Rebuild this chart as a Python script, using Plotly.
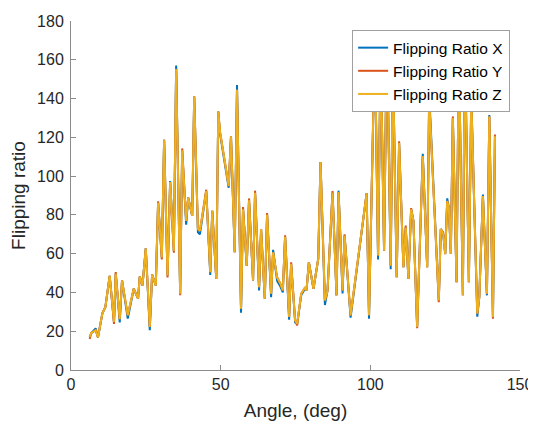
import plotly.graph_objects as go

angle_deg = [6.23, 6.80, 8.24, 9.01, 10.48, 11.49, 12.93, 14.37, 14.94, 16.28,
             17.05, 18.96, 20.96, 22.40, 22.97, 23.88, 24.98, 26.32, 27.09, 28.33,
             29.10, 30.34, 31.11, 32.25, 33.12, 34.36, 35.13, 36.47, 37.14, 38.48,
             39.15, 39.82, 40.49, 41.16, 42.40, 43.07, 45.18, 46.52, 47.19, 48.53,
             49.20, 49.77, 52.68, 53.45, 54.69, 55.46, 56.80, 57.47, 58.71, 59.48,
             60.82, 61.49, 62.83, 63.50, 64.74, 65.51, 66.85, 67.52, 68.86, 69.96,
             70.76, 71.53, 72.87, 73.54, 74.88, 75.55, 76.89, 78.23, 78.67, 79.47,
             81.01, 82.59, 83.36, 84.83, 85.70, 87.37, 88.71, 89.38, 90.72, 91.39,
             93.40, 98.76, 99.56, 101.51, 102.58, 103.45, 104.59, 105.53, 106.80, 107.54,
             108.81, 109.61, 111.05, 111.82, 112.73, 113.63, 114.40, 115.64, 117.52, 118.99,
             119.66, 122.87, 123.54, 124.35, 125.02, 125.69, 126.22, 126.89, 127.56, 128.80,
             129.57, 130.91, 131.58, 132.92, 133.72, 135.73, 136.40, 137.61, 138.95, 139.75,
             140.96, 141.63]

ratio_z = [17.1, 19.1, 20.5, 16.8, 29.2, 32.5, 48.6, 24.8, 49.6, 26.2,
           46.2, 28.2, 41.9, 36.8, 48.2, 43.6, 62.7, 22.2, 49.2, 43.6,
           86.3, 58.1, 118.8, 48.7, 96.9, 61.5, 155.2, 39.3, 113.3, 76.9,
           88.9, 84.6, 79.5, 141.0, 72.7, 71.8, 92.3, 50.4, 82.1, 47.0,
           133.3, 123.1, 94.9, 120.5, 60.7, 144.5, 31.6, 82.9, 53.8, 87.5,
           46.2, 91.4, 42.7, 72.7, 36.8, 80.0, 39.3, 60.7, 47.8, 44.5,
           41.0, 68.7, 27.3, 54.7, 25.6, 23.9, 39.3, 42.7, 41.0, 55.5,
           41.9, 57.3, 107.3, 35.9, 41.0, 91.4, 38.5, 91.8, 41.0, 69.2,
           28.2, 91.1, 28.2, 170.0, 59.0, 165.0, 61.5, 175.0, 53.8, 160.0,
           47.8, 117.1, 53.0, 73.5, 47.0, 82.9, 76.9, 22.2, 110.3, 53.0,
           139.8, 35.9, 72.7, 70.1, 59.8, 87.2, 83.7, 59.8, 129.9, 45.3,
           165.0, 38.5, 170.0, 45.3, 140.2, 29.1, 37.6, 89.7, 39.3, 130.8,
           27.3, 120.5]

ratio_x = [17.1, 19.1, 21.5, 16.8, 29.2, 32.5, 48.6, 24.8, 49.6, 24.5,
           46.2, 26.5, 41.9, 36.8, 48.2, 43.6, 62.7, 20.5, 49.2, 43.6,
           86.3, 58.1, 118.8, 48.7, 97.5, 61.5, 157.0, 39.3, 113.3, 75.0,
           88.9, 84.6, 79.5, 141.0, 71.0, 70.0, 92.3, 49.0, 82.1, 47.0,
           133.3, 122.0, 94.0, 120.5, 60.7, 147.0, 29.5, 82.9, 53.8, 87.5,
           46.2, 91.4, 41.0, 72.7, 36.8, 80.0, 37.5, 62.0, 46.0, 43.0,
           40.0, 68.7, 26.0, 54.7, 24.5, 23.9, 38.5, 42.0, 41.0, 55.5,
           41.9, 57.3, 107.3, 33.5, 41.0, 91.4, 38.5, 92.5, 39.5, 69.2,
           27.0, 91.1, 26.5, 170.0, 57.0, 165.0, 61.5, 175.0, 52.0, 160.0,
           47.8, 117.1, 53.0, 73.5, 47.0, 82.9, 76.9, 22.2, 111.5, 53.0,
           142.5, 35.9, 72.7, 70.1, 59.8, 88.5, 83.7, 59.8, 129.9, 45.3,
           165.0, 38.5, 170.0, 45.3, 140.2, 27.5, 37.6, 90.5, 38.5, 131.5,
           27.3, 120.5]

ratio_y = [16.0, 19.1, 20.5, 16.8, 29.2, 32.5, 48.6, 23.8, 50.5, 26.2,
           46.2, 28.2, 41.9, 36.8, 48.2, 43.6, 62.7, 22.2, 49.2, 43.6,
           87.0, 57.0, 118.8, 47.7, 96.9, 60.5, 155.2, 38.5, 114.3, 76.9,
           88.9, 84.6, 79.5, 141.0, 72.7, 71.8, 93.0, 50.4, 82.1, 47.0,
           133.3, 123.1, 94.9, 120.5, 60.7, 144.5, 31.6, 84.0, 53.8, 88.5,
           46.2, 92.5, 42.7, 72.7, 36.8, 81.0, 39.3, 60.7, 47.8, 44.5,
           41.0, 69.5, 27.3, 55.5, 25.6, 23.0, 39.3, 42.7, 41.0, 55.5,
           41.9, 57.3, 107.3, 35.9, 41.0, 92.3, 38.5, 91.8, 41.0, 70.0,
           28.2, 91.1, 28.2, 170.0, 59.0, 165.0, 61.5, 175.0, 53.8, 160.0,
           47.8, 118.0, 53.0, 74.5, 47.0, 83.5, 76.9, 21.5, 110.3, 53.0,
           139.8, 35.0, 72.7, 71.0, 59.8, 87.2, 83.7, 59.8, 130.8, 45.3,
           165.0, 38.5, 170.0, 45.3, 141.0, 29.1, 37.6, 89.7, 39.3, 130.8,
           26.5, 121.5]

series_names = ["Flipping Ratio X", "Flipping Ratio Y", "Flipping Ratio Z"]
series_colors = ["#0072BD", "#D95319", "#EDB120"]
x_ticks = [0, 50, 100, 150]
y_ticks = [0, 20, 40, 60, 80, 100, 120, 140, 160, 180]

FONT = "Liberation Sans, Arial, Helvetica, sans-serif"
AXIS_COLOR = "#8c8c8c"
TEXT_COLOR = "#262626"

fig = go.Figure()
for name, color, vals in zip(series_names, series_colors, [ratio_x, ratio_y, ratio_z]):
    fig.add_trace(go.Scatter(x=angle_deg, y=vals, mode="lines", name=name,
                             line=dict(color=color, width=2)))

# the page body adds an 8px margin, so the figure is 8px smaller than the window
fig.update_layout(
    width=528, height=416,
    margin=dict(l=63, r=16, t=13, b=54, autoexpand=False),
    paper_bgcolor="white", plot_bgcolor="white",
    font=dict(family=FONT, color=TEXT_COLOR, size=16),
    showlegend=True,
    legend=dict(x=0.978, y=0.974, xanchor="right", yanchor="top",
                bgcolor="white", bordercolor="#a0a0a0", borderwidth=1,
                font=dict(family=FONT, size=15.5, color="black"),
                tracegroupgap=0, itemwidth=30),
)
fig.update_xaxes(range=[0, 150], tickvals=x_ticks, showgrid=False, zeroline=False,
                 showline=True, linecolor=AXIS_COLOR, linewidth=1,
                 ticks="inside", ticklen=5, tickcolor=AXIS_COLOR,
                 tickfont=dict(size=16, color=TEXT_COLOR), automargin=False,
                 title=dict(text="Angle, (deg)", font=dict(size=19, color=TEXT_COLOR), standoff=11))
fig.update_yaxes(range=[0, 180], tickvals=y_ticks, showgrid=False, zeroline=False,
                 showline=True, linecolor=AXIS_COLOR, linewidth=1,
                 ticks="inside", ticklen=5, tickcolor=AXIS_COLOR, ticklabelstandoff=3,
                 tickfont=dict(size=16, color=TEXT_COLOR), automargin=False,
                 title=dict(text="Flipping ratio", font=dict(size=19, color=TEXT_COLOR), standoff=6))

fig.write_html("out.html")
